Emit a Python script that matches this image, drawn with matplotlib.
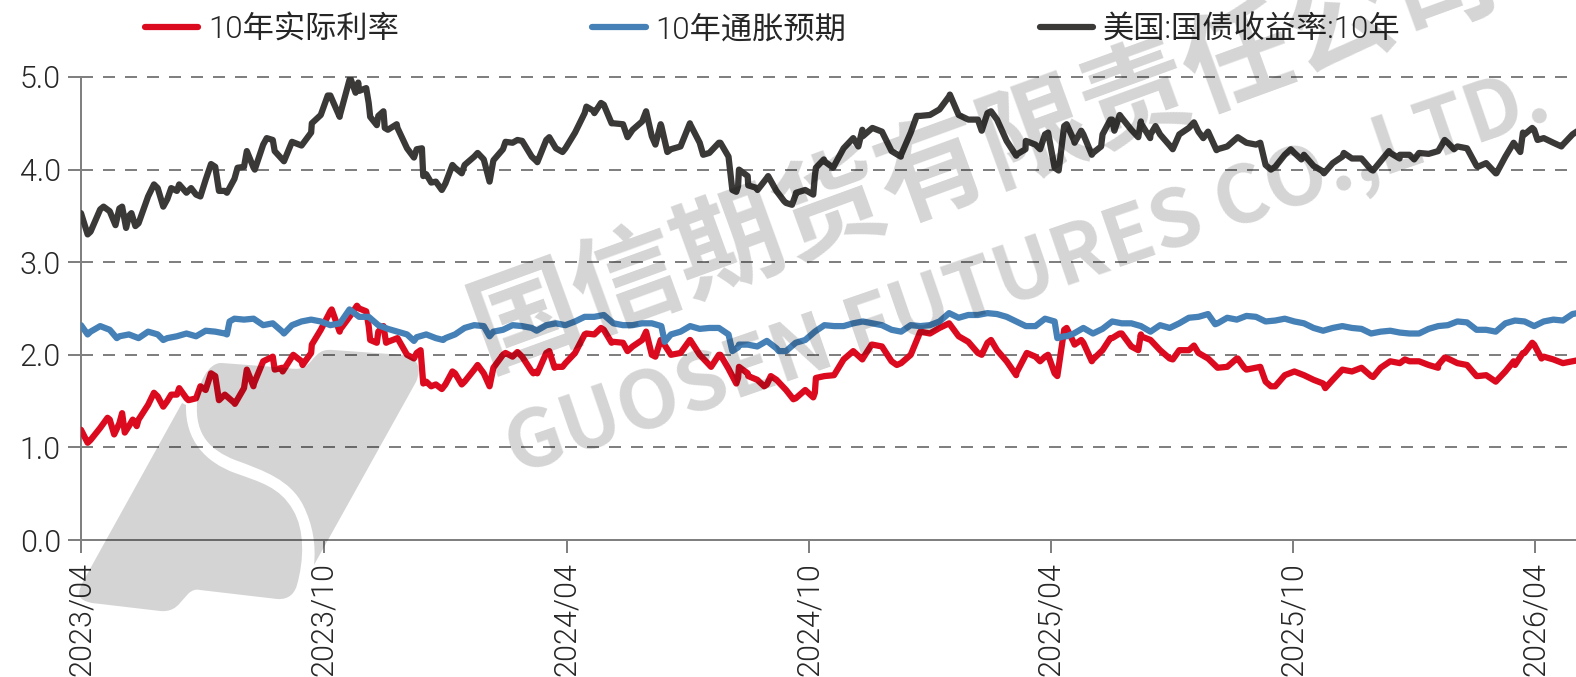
## 10y US treasury yield split into real rate and inflation expectation
import numpy as np
import matplotlib
matplotlib.use('Agg')
import matplotlib.pyplot as plt
from matplotlib.font_manager import FontProperties
from matplotlib.patches import PathPatch
from matplotlib.path import Path
from matplotlib.transforms import IdentityTransform

plt.rcParams['font.family'] = ['Roboto', 'Noto Sans CJK SC', 'DejaVu Sans']

# values, roughly one point a week
real_rate = [
    1.19, 1.08, 1.21, 1.30, 1.26, 1.23, 1.30, 1.46, 1.55, 1.50, 1.57, 1.53, 1.53, 1.62, 1.77, 1.57,
    1.48, 1.64, 1.68, 1.93, 1.98, 1.86, 1.98, 1.93, 2.02, 2.27, 2.47, 2.27, 2.41, 2.50, 2.31, 2.25,
    2.14, 2.18, 2.00, 2.02, 1.71, 1.68, 1.68, 1.80, 1.71, 1.84, 1.80, 1.86, 2.00, 1.98, 1.98, 1.82,
    1.82, 2.02, 1.87, 1.91, 2.02, 2.22, 2.22, 2.27, 2.14, 2.13, 2.09, 2.16, 2.00, 2.16, 2.00, 2.02,
    2.16, 2.00, 1.89, 2.00, 1.85, 1.75, 1.80, 1.73, 1.68, 1.73, 1.62, 1.53, 1.62, 1.59, 1.77, 1.78,
    1.95, 2.04, 1.96, 2.11, 2.09, 1.93, 1.91, 2.00, 2.25, 2.23, 2.29, 2.34, 2.20, 2.14, 2.02, 2.13,
    2.05, 1.93, 1.80, 2.00, 1.98, 1.98, 1.80, 2.27, 2.13, 2.13, 1.95, 2.05, 2.18, 2.23, 2.09, 2.20,
    2.16, 2.05, 1.96, 2.05, 2.05, 2.02, 1.96, 1.86, 1.87, 1.96, 1.84, 1.86, 1.71, 1.66, 1.78, 1.82,
    1.78, 1.73, 1.69, 1.73, 1.84, 1.82, 1.86, 1.77, 1.86, 1.93, 1.91, 1.93, 1.93, 1.89, 1.89, 1.96,
    1.91, 1.89, 1.77, 1.78, 1.71, 1.82, 1.89, 2.02, 2.11, 1.98, 1.95, 1.91, 1.93, 1.95,
]
inflation = [
    2.32, 2.25, 2.31, 2.27, 2.20, 2.22, 2.18, 2.25, 2.22, 2.18, 2.20, 2.23, 2.20, 2.26, 2.25, 2.23,
    2.39, 2.38, 2.39, 2.32, 2.34, 2.25, 2.32, 2.36, 2.38, 2.36, 2.32, 2.34, 2.49, 2.41, 2.41, 2.32,
    2.28, 2.25, 2.22, 2.19, 2.22, 2.18, 2.18, 2.22, 2.29, 2.32, 2.31, 2.25, 2.27, 2.32, 2.31, 2.29,
    2.26, 2.32, 2.34, 2.32, 2.36, 2.41, 2.41, 2.43, 2.34, 2.32, 2.32, 2.34, 2.34, 2.31, 2.22, 2.25,
    2.31, 2.28, 2.29, 2.29, 2.22, 2.08, 2.11, 2.09, 2.15, 2.07, 2.04, 2.13, 2.16, 2.25, 2.32, 2.31,
    2.31, 2.34, 2.36, 2.34, 2.32, 2.27, 2.25, 2.32, 2.31, 2.32, 2.36, 2.45, 2.40, 2.43, 2.43, 2.45,
    2.44, 2.41, 2.36, 2.31, 2.31, 2.39, 2.36, 2.20, 2.23, 2.29, 2.23, 2.28, 2.36, 2.34, 2.34, 2.31,
    2.25, 2.32, 2.29, 2.34, 2.40, 2.41, 2.44, 2.34, 2.40, 2.38, 2.42, 2.41, 2.36, 2.37, 2.39, 2.36,
    2.34, 2.29, 2.26, 2.29, 2.31, 2.29, 2.28, 2.23, 2.25, 2.26, 2.24, 2.23, 2.23, 2.28, 2.31, 2.32,
    2.36, 2.35, 2.27, 2.27, 2.25, 2.34, 2.37, 2.36, 2.31, 2.36, 2.38, 2.37, 2.44, 2.46,
]
nominal = [
    3.53, 3.33, 3.57, 3.55, 3.58, 3.50, 3.42, 3.71, 3.80, 3.68, 3.77, 3.75, 3.73, 3.89, 4.03, 3.77,
    3.90, 4.03, 4.02, 4.27, 4.32, 4.11, 4.30, 4.26, 4.40, 4.59, 4.80, 4.59, 4.97, 4.85, 4.72, 4.58,
    4.43, 4.45, 4.23, 4.22, 3.95, 3.87, 3.85, 4.02, 4.05, 4.14, 4.11, 4.10, 4.22, 4.29, 4.31, 4.14,
    4.09, 4.32, 4.23, 4.23, 4.40, 4.61, 4.63, 4.70, 4.50, 4.49, 4.43, 4.52, 4.36, 4.47, 4.22, 4.25,
    4.49, 4.29, 4.18, 4.29, 4.14, 3.82, 3.93, 3.80, 3.91, 3.77, 3.64, 3.73, 3.78, 3.93, 4.09, 4.04,
    4.23, 4.34, 4.36, 4.45, 4.41, 4.20, 4.16, 4.40, 4.58, 4.59, 4.65, 4.79, 4.59, 4.54, 4.54, 4.61,
    4.54, 4.31, 4.16, 4.31, 4.27, 4.38, 4.02, 4.47, 4.32, 4.38, 4.18, 4.38, 4.54, 4.56, 4.43, 4.50,
    4.38, 4.38, 4.26, 4.38, 4.45, 4.41, 4.41, 4.22, 4.25, 4.34, 4.29, 4.27, 4.05, 4.03, 4.16, 4.18,
    4.16, 4.04, 3.98, 4.07, 4.14, 4.12, 4.12, 4.00, 4.09, 4.18, 4.16, 4.16, 4.18, 4.17, 4.20, 4.29,
    4.25, 4.23, 4.04, 4.07, 3.96, 4.14, 4.27, 4.38, 4.43, 4.34, 4.29, 4.27, 4.38, 4.45,
]

# sharp daily spikes between the weekly points: days since 2023-04-01 and value
nominal_spike_days = [
    5, 17, 26, 31, 34, 38, 41, 55, 62, 68, 74, 83, 90, 98, 104, 110, 118, 125, 131, 140, 146, 153, 174, 186,
    195, 203, 207, 209, 215, 218, 223, 228, 229, 238, 251, 257, 258, 264, 272, 280, 287, 299, 308, 320, 329,
    344, 353, 363, 381, 387, 392, 400, 412, 426, 433, 437, 442, 459, 469, 482, 491, 494, 496, 503, 510, 518,
    530, 536, 539, 552, 554, 560, 567, 586, 589, 618, 630, 655, 679, 686, 705, 712, 723, 729, 737, 743, 749,
    754, 762, 769, 776, 779, 783, 797, 799, 806, 810, 823, 827, 839, 846, 856, 872, 889, 897, 912, 920, 937,
    952, 974, 986, 994, 1005, 1028, 1035, 1053, 1067, 1080, 1085, 1087, 1094, 1098, 1116,
]
nominal_spikes = [
    3.30, 3.60, 3.40, 3.60, 3.37, 3.53, 3.39, 3.84, 3.60, 3.80, 3.84, 3.80, 3.71, 4.06, 3.77, 3.75, 4.02, 4.20,
    4.00, 4.34, 4.20, 4.09, 4.50, 4.80, 4.57, 4.99, 4.83, 4.94, 4.88, 4.57, 4.48, 4.63, 4.45, 4.49, 4.13, 4.23,
    3.93, 3.86, 3.78, 4.05, 3.96, 4.18, 3.87, 4.30, 4.32,
    4.08, 4.35, 4.19, 4.68, 4.61, 4.72, 4.50, 4.35, 4.63, 4.27, 4.49, 4.19, 4.50, 4.16, 4.29, 3.78, 3.76, 4.00,
    3.83, 3.78, 3.93, 3.66, 3.62, 3.75, 3.73, 4.02, 4.11, 4.02, 4.25, 4.43, 4.14, 4.58, 4.81, 4.42, 4.63, 4.15,
    4.22, 4.22, 4.40, 3.99, 4.49, 4.29, 4.42, 4.16, 4.25, 4.54, 4.42, 4.59, 4.35, 4.52, 4.34, 4.47, 4.22, 4.35,
    4.51, 4.34, 4.21, 4.35, 4.29, 4.00, 4.22, 4.11, 3.96, 4.18, 3.99, 4.20, 4.12, 4.11, 4.32, 4.22, 4.03, 3.96,
    4.29, 4.19, 4.40, 4.45, 4.32, 4.25,
]
real_spike_days = [
    5, 20, 25, 31, 33, 39, 42, 55, 62, 68, 74, 81, 90, 98, 104, 116, 125, 130, 146, 152, 160, 167, 174, 189, 195,
    208, 215, 218, 223, 228, 230, 251, 256, 258, 264, 272, 280, 287, 299, 308, 320, 329, 341,
    344, 353, 357, 363, 381, 392, 400, 412, 426, 433, 437, 459, 475, 482, 494, 496, 503, 515, 520, 537, 552, 554,
    589, 596, 615, 679, 686, 705, 713, 723, 729, 736,
    743, 749, 754, 762, 776, 783, 797, 799, 823, 839, 872, 877, 889, 897, 938, 974, 998, 1023, 1028, 1053, 1080,
    1087, 1094, 1101,
]
real_spikes = [
    1.05, 1.32, 1.14, 1.37, 1.16, 1.30, 1.23, 1.59, 1.44, 1.57, 1.64, 1.51, 1.66, 1.80, 1.51, 1.47, 1.84, 1.66,
    1.84, 1.82, 2.00, 1.89, 2.11, 2.49, 2.25, 2.53, 2.47, 2.16, 2.13, 2.31, 2.13, 1.96, 2.05, 1.69, 1.66, 1.63,
    1.82, 1.68, 1.89, 1.66, 2.02, 2.03, 1.80,
    1.80, 2.04, 1.86, 1.87, 2.23, 2.29, 2.13, 2.04, 2.25, 1.98, 2.16, 2.16, 1.87, 2.00, 1.69, 1.87, 1.77, 1.66,
    1.77, 1.52, 1.54, 1.75, 1.95, 2.11, 1.89, 2.00, 2.16, 1.78, 2.02, 1.93, 2.00, 1.77,
    2.29, 2.11, 2.16, 1.93, 2.18, 2.23, 2.05, 2.22, 1.95, 2.10, 1.96, 1.86, 1.87, 1.66, 1.64, 1.76, 1.95, 1.86,
    1.97, 1.77, 1.93, 2.02, 2.13, 1.96,
]
inflation_spike_days = [5, 27, 62, 110, 112, 153, 251, 273, 308, 440, 491, 496, 526, 736, 743, 855]
inflation_spikes = [2.22, 2.18, 2.16, 2.22, 2.36, 2.23, 2.15, 2.16, 2.20, 2.14, 2.04, 2.11, 2.04, 2.18, 2.20, 2.33]

series_names = ['10年实际利率', '10年通胀预期', '美国:国债收益率:10年']
y_ticks = [0.0, 1.0, 2.0, 3.0, 4.0, 5.0]
tick_months = ['2023-04', '2023-10', '2024-04', '2024-10', '2025-04', '2025-10', '2026-04']

start = np.datetime64('2023-04-01')
offsets = np.arange(len(nominal)) * 7.23
offsets[48:] -= 3.5


def merged(values, spike_days, spikes):
    # weekly points plus the spikes, in date order
    days = np.concatenate([offsets, spike_days])
    vals = np.concatenate([values, spikes])
    order = np.argsort(days, kind='stable')
    dates = start + (days[order] * 24).astype(int) * np.timedelta64(1, 'h')
    return dates, vals[order]


W, H = 1576, 677
GRID = '#808080'
TEXT = '#262626'
light = dict(family=['Roboto', 'Noto Sans CJK SC', 'DejaVu Sans'], weight=300)
fig = plt.figure(figsize=(W / 100, H / 100), dpi=100)
ax = fig.add_axes([81 / W, (H - 540) / H, (W - 81) / W, 463 / H])

line_style = dict(lw=4.5, solid_joinstyle='round', solid_capstyle='round')
ax.plot(*merged(real_rate, real_spike_days, real_spikes), color='#DC0A1E', label=series_names[0], zorder=3, **line_style)
ax.plot(*merged(inflation, inflation_spike_days, inflation_spikes), color='#4580B6', label=series_names[1], zorder=4, **line_style)
ax.plot(*merged(nominal, nominal_spike_days, nominal_spikes), color='#3B3838', label=series_names[2], zorder=5, **line_style)

ax.set_ylim(0, 5)
ax.set_xlim(start, start + np.timedelta64(1127, 'D'))
ax.set_yticks(y_ticks)
ax.set_yticklabels([f'{v:.1f}' for v in y_ticks], fontsize=22, color=TEXT, **light)
ax.set_xticks([np.datetime64(m + '-01') for m in tick_months])
ax.set_xticklabels([m.replace('-', '/') for m in tick_months], rotation=90, fontsize=22, color=TEXT, **light)
ax.tick_params(axis='y', length=9.4, width=1.44, color=GRID, pad=5)
ax.tick_params(axis='x', length=9, width=1.44, color=GRID, pad=7)

for v in y_ticks[1:]:
    ax.axhline(v, color=GRID, lw=1.44, ls=(0, (6, 5)), clip_on=False, zorder=1)
for side in ['top', 'right']:
    ax.spines[side].set_visible(False)
for side in ['left', 'bottom']:
    ax.spines[side].set_color(GRID)
    ax.spines[side].set_linewidth(1.44)

fig.legend(loc='upper left', bbox_to_anchor=(145 / W, 1 - 15 / H), ncol=3, frameon=False,
           prop=FontProperties(size=22.5, **light), borderpad=0, borderaxespad=0, handlelength=1.7,
           handletextpad=0.31, columnspacing=6.2, labelcolor=TEXT)

# watermark sits on top of the plot and darkens it a little
wm = dict(color='black', alpha=0.17, ha='center', va='center', rotation_mode='anchor', zorder=10)
fig.text(985 / W, 1 - 152 / H, '国信期货有限责任公司', fontsize=78, rotation=20,
         family='Noto Sans CJK SC', fontweight='bold', **wm)
fig.text(1028 / W, 1 - 275 / H, 'GUOSEN FUTURES CO.,LTD.', fontsize=58, rotation=19,
         family='Noto Sans CJK SC', fontweight='bold', **wm)


def logo_path(parts):
    # parts: start point, then 1 point for a line or 3 points for a bezier
    verts = [parts[0]]
    codes = [Path.MOVETO]
    for seg in parts[1:]:
        verts += seg
        codes += [Path.LINETO] if len(seg) == 1 else [Path.CURVE4] * 3
    verts.append(parts[0])
    codes.append(Path.CLOSEPOLY)
    return Path([(x, H - y) for x, y in verts], codes)


# company logo, outline in pixels from the top left corner
logo_left = [
    (182, 403), [(85, 578)], [(75, 595), (78, 600), (92, 603)], [(160, 611)], [(170, 612), (176, 608), (180, 603)],
    [(188, 594)], [(192, 590), (196, 589), (200, 590)], [(277, 599)], [(290, 600), (295, 592), (297, 585)],
    [(304, 560), (305, 530), (293, 510)], [(280, 487), (260, 482), (235, 473)], [(205, 462), (185, 440), (186, 405)],
]
logo_right = [
    (197, 403), [(195, 435), (210, 450), (235, 460)], [(265, 471), (290, 480), (303, 505)],
    [(313, 525), (316, 545), (314, 565)], [(328, 540)], [(416, 382)], [(422, 368), (418, 358), (404, 355)],
    [(333, 350)], [(322, 349), (318, 353), (312, 360)], [(305, 369), (298, 370), (288, 368)], [(222, 363)],
    [(208, 362), (197, 385), (197, 403)],
]
for outline in [logo_left, logo_right]:
    fig.add_artist(PathPatch(logo_path(outline), transform=IdentityTransform(), facecolor='black', edgecolor='none',
                             alpha=0.17, zorder=10))

fig.savefig('out.png', dpi=100)
plt.close(fig)
